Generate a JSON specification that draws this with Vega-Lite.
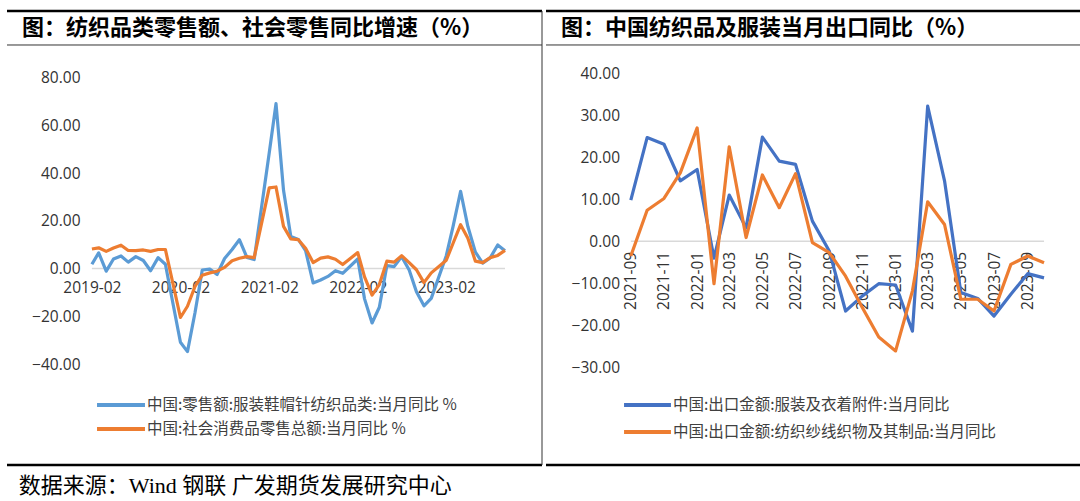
{
  "$schema": "https://vega.github.io/schema/vega-lite/v6.json",
  "background": "white",
  "padding": {"left": 5, "top": 9, "right": 5, "bottom": 0},
  "spacing": 0,
  "resolve": {"scale": {"color": "independent"}, "legend": {"color": "independent"}},
  "title": {
    "text": "数据来源：Wind 钢联 广发期货发展研究中心",
    "orient": "bottom",
    "anchor": "start",
    "frame": "bounds",
    "offset": 10,
    "dx": 13,
    "font": "Liberation Serif, Noto Sans CJK SC",
    "fontSize": 22,
    "fontWeight": "normal",
    "color": "#000000"
  },
  "config": {
    "view": {"stroke": null},
    "axis": {"labelFont": "Open Sans", "labelFontSize": 15.5, "labelColor": "#333333", "grid": false, "ticks": false, "tickSize": 0, "domain": false, "labelOverlap": false, "labelBound": false, "labelFlush": false}
  },
  "hconcat": [
    {
      "width": 535,
      "height": 454,
      "layer": [
        {
          "data": {"values": [{}]},
          "mark": {"type": "rule", "color": "#000000", "strokeWidth": 2.5},
          "encoding": {"y": {"datum": 107.95, "type": "quantitative"}}
        },
        {
          "data": {"values": [{}]},
          "mark": {"type": "rule", "color": "#333333", "strokeWidth": 1},
          "encoding": {"y": {"datum": 93.7, "type": "quantitative"}}
        },
        {
          "data": {"values": [{}]},
          "mark": {"type": "rule", "color": "#000000", "strokeWidth": 2.5},
          "encoding": {"y": {"datum": -82.33, "type": "quantitative"}}
        },
        {
          "data": {"values": [{}]},
          "mark": {"type": "rule", "color": "#333333", "strokeWidth": 1},
          "encoding": {"x": {"datum": {"year": 2024, "month": 3, "date": 1, "hours": 14, "utc": true}, "type": "temporal"}}
        },
        {
          "data": {"values": [{}]},
          "mark": {"type": "text", "align": "left", "baseline": "middle", "dx": 15, "font": "Noto Sans CJK SC", "fontSize": 22, "fontWeight": "bold", "color": "#000000"},
          "encoding": {
            "x": {"datum": {"year": 2018, "month": 2, "date": 16, "utc": true}, "type": "temporal"},
            "y": {"datum": 100.8, "type": "quantitative"},
            "text": {"value": "图：纺织品类零售额、社会零售同比增速（%）"}
          }
        },
        {
          "data": {"values": [{}]},
          "mark": {"type": "rule", "color": "#d9d9d9", "strokeWidth": 1.5},
          "encoding": {
            "x": {"datum": {"year": 2019, "month": 2, "date": 1, "utc": true}, "type": "temporal"},
            "x2": {"datum": {"year": 2023, "month": 10, "date": 1, "utc": true}},
            "y": {"datum": 0, "type": "quantitative"}
          }
        },
        {
          "data": {
            "format": {"parse": {"m": "utc:'%Y-%m'"}},
            "values": [
              {"m": "2019-02", "中国:零售额:服装鞋帽针纺织品类:当月同比 %": 1.8, "中国:社会消费品零售总额:当月同比 %": 8.2},
              {"m": "2019-03", "中国:零售额:服装鞋帽针纺织品类:当月同比 %": 6.6, "中国:社会消费品零售总额:当月同比 %": 8.7},
              {"m": "2019-04", "中国:零售额:服装鞋帽针纺织品类:当月同比 %": -1.1, "中国:社会消费品零售总额:当月同比 %": 7.2},
              {"m": "2019-05", "中国:零售额:服装鞋帽针纺织品类:当月同比 %": 4.0, "中国:社会消费品零售总额:当月同比 %": 8.6},
              {"m": "2019-06", "中国:零售额:服装鞋帽针纺织品类:当月同比 %": 5.3, "中国:社会消费品零售总额:当月同比 %": 9.8},
              {"m": "2019-07", "中国:零售额:服装鞋帽针纺织品类:当月同比 %": 2.7, "中国:社会消费品零售总额:当月同比 %": 7.6},
              {"m": "2019-08", "中国:零售额:服装鞋帽针纺织品类:当月同比 %": 5.0, "中国:社会消费品零售总额:当月同比 %": 7.5},
              {"m": "2019-09", "中国:零售额:服装鞋帽针纺织品类:当月同比 %": 3.4, "中国:社会消费品零售总额:当月同比 %": 7.8},
              {"m": "2019-10", "中国:零售额:服装鞋帽针纺织品类:当月同比 %": -0.9, "中国:社会消费品零售总额:当月同比 %": 7.2},
              {"m": "2019-11", "中国:零售额:服装鞋帽针纺织品类:当月同比 %": 4.6, "中国:社会消费品零售总额:当月同比 %": 8.0},
              {"m": "2019-12", "中国:零售额:服装鞋帽针纺织品类:当月同比 %": 1.8, "中国:社会消费品零售总额:当月同比 %": 8.0},
              {"m": "2020-02", "中国:零售额:服装鞋帽针纺织品类:当月同比 %": -30.9, "中国:社会消费品零售总额:当月同比 %": -20.5},
              {"m": "2020-03", "中国:零售额:服装鞋帽针纺织品类:当月同比 %": -34.8, "中国:社会消费品零售总额:当月同比 %": -15.8},
              {"m": "2020-04", "中国:零售额:服装鞋帽针纺织品类:当月同比 %": -18.5, "中国:社会消费品零售总额:当月同比 %": -7.5},
              {"m": "2020-05", "中国:零售额:服装鞋帽针纺织品类:当月同比 %": -0.6, "中国:社会消费品零售总额:当月同比 %": -2.8},
              {"m": "2020-06", "中国:零售额:服装鞋帽针纺织品类:当月同比 %": -0.2, "中国:社会消费品零售总额:当月同比 %": -1.8},
              {"m": "2020-07", "中国:零售额:服装鞋帽针纺织品类:当月同比 %": -2.5, "中国:社会消费品零售总额:当月同比 %": -1.1},
              {"m": "2020-08", "中国:零售额:服装鞋帽针纺织品类:当月同比 %": 4.2, "中国:社会消费品零售总额:当月同比 %": 0.5},
              {"m": "2020-09", "中国:零售额:服装鞋帽针纺织品类:当月同比 %": 8.0, "中国:社会消费品零售总额:当月同比 %": 3.3},
              {"m": "2020-10", "中国:零售额:服装鞋帽针纺织品类:当月同比 %": 12.1, "中国:社会消费品零售总额:当月同比 %": 4.3},
              {"m": "2020-11", "中国:零售额:服装鞋帽针纺织品类:当月同比 %": 4.7, "中国:社会消费品零售总额:当月同比 %": 5.0},
              {"m": "2020-12", "中国:零售额:服装鞋帽针纺织品类:当月同比 %": 3.8, "中国:社会消费品零售总额:当月同比 %": 4.6},
              {"m": "2021-02", "中国:零售额:服装鞋帽针纺织品类:当月同比 %": 48.4, "中国:社会消费品零售总额:当月同比 %": 33.8},
              {"m": "2021-03", "中国:零售额:服装鞋帽针纺织品类:当月同比 %": 69.1, "中国:社会消费品零售总额:当月同比 %": 34.2},
              {"m": "2021-04", "中国:零售额:服装鞋帽针纺织品类:当月同比 %": 32.8, "中国:社会消费品零售总额:当月同比 %": 17.7},
              {"m": "2021-05", "中国:零售额:服装鞋帽针纺织品类:当月同比 %": 13.4, "中国:社会消费品零售总额:当月同比 %": 12.4},
              {"m": "2021-06", "中国:零售额:服装鞋帽针纺织品类:当月同比 %": 12.2, "中国:社会消费品零售总额:当月同比 %": 12.1},
              {"m": "2021-07", "中国:零售额:服装鞋帽针纺织品类:当月同比 %": 7.5, "中国:社会消费品零售总额:当月同比 %": 8.5},
              {"m": "2021-08", "中国:零售额:服装鞋帽针纺织品类:当月同比 %": -6.0, "中国:社会消费品零售总额:当月同比 %": 2.5},
              {"m": "2021-09", "中国:零售额:服装鞋帽针纺织品类:当月同比 %": -4.8, "中国:社会消费品零售总额:当月同比 %": 4.4},
              {"m": "2021-10", "中国:零售额:服装鞋帽针纺织品类:当月同比 %": -3.3, "中国:社会消费品零售总额:当月同比 %": 4.9},
              {"m": "2021-11", "中国:零售额:服装鞋帽针纺织品类:当月同比 %": -0.9, "中国:社会消费品零售总额:当月同比 %": 3.9},
              {"m": "2021-12", "中国:零售额:服装鞋帽针纺织品类:当月同比 %": -2.0, "中国:社会消费品零售总额:当月同比 %": 1.7},
              {"m": "2022-02", "中国:零售额:服装鞋帽针纺织品类:当月同比 %": 4.0, "中国:社会消费品零售总额:当月同比 %": 6.7},
              {"m": "2022-03", "中国:零售额:服装鞋帽针纺织品类:当月同比 %": -12.7, "中国:社会消费品零售总额:当月同比 %": -3.5},
              {"m": "2022-04", "中国:零售额:服装鞋帽针纺织品类:当月同比 %": -22.8, "中国:社会消费品零售总额:当月同比 %": -11.1},
              {"m": "2022-05", "中国:零售额:服装鞋帽针纺织品类:当月同比 %": -16.2, "中国:社会消费品零售总额:当月同比 %": -6.7},
              {"m": "2022-06", "中国:零售额:服装鞋帽针纺织品类:当月同比 %": 1.2, "中国:社会消费品零售总额:当月同比 %": 3.1},
              {"m": "2022-07", "中国:零售额:服装鞋帽针纺织品类:当月同比 %": 0.8, "中国:社会消费品零售总额:当月同比 %": 2.7},
              {"m": "2022-08", "中国:零售额:服装鞋帽针纺织品类:当月同比 %": 5.0, "中国:社会消费品零售总额:当月同比 %": 5.4},
              {"m": "2022-09", "中国:零售额:服装鞋帽针纺织品类:当月同比 %": -0.6, "中国:社会消费品零售总额:当月同比 %": 2.5},
              {"m": "2022-10", "中国:零售额:服装鞋帽针纺织品类:当月同比 %": -9.7, "中国:社会消费品零售总额:当月同比 %": -0.5},
              {"m": "2022-11", "中国:零售额:服装鞋帽针纺织品类:当月同比 %": -15.6, "中国:社会消费品零售总额:当月同比 %": -5.9},
              {"m": "2022-12", "中国:零售额:服装鞋帽针纺织品类:当月同比 %": -12.5, "中国:社会消费品零售总额:当月同比 %": -1.8},
              {"m": "2023-02", "中国:零售额:服装鞋帽针纺织品类:当月同比 %": 5.4, "中国:社会消费品零售总额:当月同比 %": 3.5},
              {"m": "2023-03", "中国:零售额:服装鞋帽针纺织品类:当月同比 %": 17.7, "中国:社会消费品零售总额:当月同比 %": 10.6},
              {"m": "2023-04", "中国:零售额:服装鞋帽针纺织品类:当月同比 %": 32.4, "中国:社会消费品零售总额:当月同比 %": 18.4},
              {"m": "2023-05", "中国:零售额:服装鞋帽针纺织品类:当月同比 %": 17.6, "中国:社会消费品零售总额:当月同比 %": 12.7},
              {"m": "2023-06", "中国:零售额:服装鞋帽针纺织品类:当月同比 %": 6.9, "中国:社会消费品零售总额:当月同比 %": 3.1},
              {"m": "2023-07", "中国:零售额:服装鞋帽针纺织品类:当月同比 %": 2.3, "中国:社会消费品零售总额:当月同比 %": 2.5},
              {"m": "2023-08", "中国:零售额:服装鞋帽针纺织品类:当月同比 %": 4.5, "中国:社会消费品零售总额:当月同比 %": 4.6},
              {"m": "2023-09", "中国:零售额:服装鞋帽针纺织品类:当月同比 %": 9.9, "中国:社会消费品零售总额:当月同比 %": 5.5},
              {"m": "2023-10", "中国:零售额:服装鞋帽针纺织品类:当月同比 %": 7.5, "中国:社会消费品零售总额:当月同比 %": 7.6}
            ]
          },
          "transform": [{"fold": ["中国:零售额:服装鞋帽针纺织品类:当月同比 %", "中国:社会消费品零售总额:当月同比 %"], "as": ["s", "v"]}],
          "mark": {"type": "line", "strokeWidth": 3.2, "strokeJoin": "round"},
          "encoding": {
            "x": {
              "field": "m", "type": "temporal",
              "scale": {"type": "utc", "domain": [{"year": 2018, "month": 2, "date": 16, "utc": true}, {"year": 2024, "month": 3, "date": 1, "hours": 14, "utc": true}], "nice": false},
              "axis": {"title": null, "orient": "bottom", "offset": -196.4, "labelPadding": 12, "labelExpr": "utcFormat(datum.value, '%Y-%m')",
                "values": [{"year": 2019, "month": 2, "date": 1, "utc": true}, {"year": 2020, "month": 2, "date": 1, "utc": true}, {"year": 2021, "month": 2, "date": 1, "utc": true}, {"year": 2022, "month": 2, "date": 1, "utc": true}, {"year": 2023, "month": 2, "date": 1, "utc": true}]}
            },
            "y": {
              "field": "v", "type": "quantitative",
              "scale": {"domain": [-82.33, 107.95], "nice": false, "zero": false},
              "axis": {"title": null, "orient": "left", "offset": -75, "labelPadding": 2, "format": ".2f", "values": [-40, -20, 0, 20, 40, 60, 80]}
            },
            "color": {
              "field": "s", "type": "nominal",
              "scale": {"domain": ["中国:零售额:服装鞋帽针纺织品类:当月同比 %", "中国:社会消费品零售总额:当月同比 %"], "range": ["#5B9BD5", "#ED7D31"]},
              "legend": {"title": null, "orient": "none", "direction": "vertical", "legendX": 88, "legendY": 386, "padding": 0, "clipHeight": 16, "symbolType": "stroke", "symbolSize": 2300, "symbolStrokeWidth": 4, "labelFont": "Noto Sans CJK SC", "labelFontSize": 15.5, "labelColor": "#404040", "labelOffset": 0, "rowPadding": 7, "labelLimit": 0}
            }
          }
        }
      ]
    },
    {
      "width": 535,
      "height": 454,
      "layer": [
        {
          "data": {"values": [{}]},
          "mark": {"type": "rule", "color": "#000000", "strokeWidth": 2.5},
          "encoding": {"y": {"datum": 54.83, "type": "quantitative"}}
        },
        {
          "data": {"values": [{}]},
          "mark": {"type": "rule", "color": "#333333", "strokeWidth": 1},
          "encoding": {"y": {"datum": 46.74, "type": "quantitative"}}
        },
        {
          "data": {"values": [{}]},
          "mark": {"type": "rule", "color": "#000000", "strokeWidth": 2.5},
          "encoding": {"y": {"datum": -53.26, "type": "quantitative"}}
        },
        {
          "data": {"values": [{}]},
          "mark": {"type": "text", "align": "left", "baseline": "middle", "dx": 15, "font": "Noto Sans CJK SC", "fontSize": 22, "fontWeight": "bold", "color": "#000000"},
          "encoding": {
            "x": {"datum": {"year": 2021, "month": 3, "date": 29, "utc": true}, "type": "temporal"},
            "y": {"datum": 50.79, "type": "quantitative"},
            "text": {"value": "图：中国纺织品及服装当月出口同比（%）"}
          }
        },
        {
          "data": {"values": [{}]},
          "mark": {"type": "rule", "color": "#d9d9d9", "strokeWidth": 1.5},
          "encoding": {
            "x": {"datum": {"year": 2021, "month": 9, "date": 1, "utc": true}, "type": "temporal"},
            "x2": {"datum": {"year": 2023, "month": 10, "date": 1, "utc": true}},
            "y": {"datum": 0, "type": "quantitative"}
          }
        },
        {
          "data": {
            "format": {"parse": {"m": "utc:'%Y-%m'"}},
            "values": [
              {"m": "2021-09", "中国:出口金额:服装及衣着附件:当月同比": 9.8, "中国:出口金额:纺织纱线织物及其制品:当月同比": -3.5},
              {"m": "2021-10", "中国:出口金额:服装及衣着附件:当月同比": 24.7, "中国:出口金额:纺织纱线织物及其制品:当月同比": 7.4},
              {"m": "2021-11", "中国:出口金额:服装及衣着附件:当月同比": 23.1, "中国:出口金额:纺织纱线织物及其制品:当月同比": 10.2},
              {"m": "2021-12", "中国:出口金额:服装及衣着附件:当月同比": 14.4, "中国:出口金额:纺织纱线织物及其制品:当月同比": 16.3},
              {"m": "2022-01", "中国:出口金额:服装及衣着附件:当月同比": 17.1, "中国:出口金额:纺织纱线织物及其制品:当月同比": 27.0},
              {"m": "2022-02", "中国:出口金额:服装及衣着附件:当月同比": -4.0, "中国:出口金额:纺织纱线织物及其制品:当月同比": -10.1},
              {"m": "2022-03", "中国:出口金额:服装及衣着附件:当月同比": 11.0, "中国:出口金额:纺织纱线织物及其制品:当月同比": 22.5},
              {"m": "2022-04", "中国:出口金额:服装及衣着附件:当月同比": 3.2, "中国:出口金额:纺织纱线织物及其制品:当月同比": 0.9},
              {"m": "2022-05", "中国:出口金额:服装及衣着附件:当月同比": 24.8, "中国:出口金额:纺织纱线织物及其制品:当月同比": 15.8},
              {"m": "2022-06", "中国:出口金额:服装及衣着附件:当月同比": 19.1, "中国:出口金额:纺织纱线织物及其制品:当月同比": 8.0},
              {"m": "2022-07", "中国:出口金额:服装及衣着附件:当月同比": 18.3, "中国:出口金额:纺织纱线织物及其制品:当月同比": 16.1},
              {"m": "2022-08", "中国:出口金额:服装及衣着附件:当月同比": 4.8, "中国:出口金额:纺织纱线织物及其制品:当月同比": -0.3},
              {"m": "2022-09", "中国:出口金额:服装及衣着附件:当月同比": -2.3, "中国:出口金额:纺织纱线织物及其制品:当月同比": -2.7},
              {"m": "2022-10", "中国:出口金额:服装及衣着附件:当月同比": -16.6, "中国:出口金额:纺织纱线织物及其制品:当月同比": -8.3},
              {"m": "2022-11", "中国:出口金额:服装及衣着附件:当月同比": -13.0, "中国:出口金额:纺织纱线织物及其制品:当月同比": -15.8},
              {"m": "2022-12", "中国:出口金额:服装及衣着附件:当月同比": -10.1, "中国:出口金额:纺织纱线织物及其制品:当月同比": -22.8},
              {"m": "2023-01", "中国:出口金额:服装及衣着附件:当月同比": -10.4, "中国:出口金额:纺织纱线织物及其制品:当月同比": -26.1},
              {"m": "2023-02", "中国:出口金额:服装及衣着附件:当月同比": -21.4, "中国:出口金额:纺织纱线织物及其制品:当月同比": -11.8},
              {"m": "2023-03", "中国:出口金额:服装及衣着附件:当月同比": 32.2, "中国:出口金额:纺织纱线织物及其制品:当月同比": 9.4},
              {"m": "2023-04", "中国:出口金额:服装及衣着附件:当月同比": 14.4, "中国:出口金额:纺织纱线织物及其制品:当月同比": 4.0},
              {"m": "2023-05", "中国:出口金额:服装及衣着附件:当月同比": -12.2, "中国:出口金额:纺织纱线织物及其制品:当月同比": -13.8},
              {"m": "2023-06", "中国:出口金额:服装及衣着附件:当月同比": -13.6, "中国:出口金额:纺织纱线织物及其制品:当月同比": -13.8},
              {"m": "2023-07", "中国:出口金额:服装及衣着附件:当月同比": -17.8, "中国:出口金额:纺织纱线织物及其制品:当月同比": -16.6},
              {"m": "2023-08", "中国:出口金额:服装及衣着附件:当月同比": -12.6, "中国:出口金额:纺织纱线织物及其制品:当月同比": -5.5},
              {"m": "2023-09", "中国:出口金额:服装及衣着附件:当月同比": -7.7, "中国:出口金额:纺织纱线织物及其制品:当月同比": -3.5},
              {"m": "2023-10", "中国:出口金额:服装及衣着附件:当月同比": -8.7, "中国:出口金额:纺织纱线织物及其制品:当月同比": -5.1}
            ]
          },
          "transform": [{"fold": ["中国:出口金额:服装及衣着附件:当月同比", "中国:出口金额:纺织纱线织物及其制品:当月同比"], "as": ["s", "v"]}],
          "mark": {"type": "line", "strokeWidth": 3.2, "strokeJoin": "round"},
          "encoding": {
            "x": {
              "field": "m", "type": "temporal",
              "scale": {"type": "utc", "domain": [{"year": 2021, "month": 3, "date": 29, "utc": true}, {"year": 2023, "month": 12, "date": 8, "utc": true}], "nice": false},
              "axis": {"title": null, "orient": "bottom", "offset": -223.7, "labelPadding": 10, "labelAngle": -90, "labelExpr": "utcFormat(datum.value, '%Y-%m')",
                "values": [{"year": 2021, "month": 9, "date": 1, "utc": true}, {"year": 2021, "month": 11, "date": 1, "utc": true}, {"year": 2022, "month": 1, "date": 1, "utc": true}, {"year": 2022, "month": 3, "date": 1, "utc": true}, {"year": 2022, "month": 5, "date": 1, "utc": true}, {"year": 2022, "month": 7, "date": 1, "utc": true}, {"year": 2022, "month": 9, "date": 1, "utc": true}, {"year": 2022, "month": 11, "date": 1, "utc": true}, {"year": 2023, "month": 1, "date": 1, "utc": true}, {"year": 2023, "month": 3, "date": 1, "utc": true}, {"year": 2023, "month": 5, "date": 1, "utc": true}, {"year": 2023, "month": 7, "date": 1, "utc": true}, {"year": 2023, "month": 9, "date": 1, "utc": true}]}
            },
            "y": {
              "field": "v", "type": "quantitative",
              "scale": {"domain": [-53.26, 54.83], "nice": false, "zero": false},
              "axis": {"title": null, "orient": "left", "offset": -75.5, "labelPadding": 2, "format": ".2f", "values": [-30, -20, -10, 0, 10, 20, 30, 40]}
            },
            "color": {
              "field": "s", "type": "nominal",
              "scale": {"domain": ["中国:出口金额:服装及衣着附件:当月同比", "中国:出口金额:纺织纱线织物及其制品:当月同比"], "range": ["#4472C4", "#ED7D31"]},
              "legend": {"title": null, "orient": "none", "direction": "vertical", "legendX": 76, "legendY": 386, "padding": 0, "clipHeight": 16, "symbolType": "stroke", "symbolSize": 2200, "symbolStrokeWidth": 4, "labelFont": "Noto Sans CJK SC", "labelFontSize": 15.5, "labelColor": "#404040", "labelOffset": 0, "rowPadding": 10, "labelLimit": 0}
            }
          }
        }
      ]
    }
  ]
}
